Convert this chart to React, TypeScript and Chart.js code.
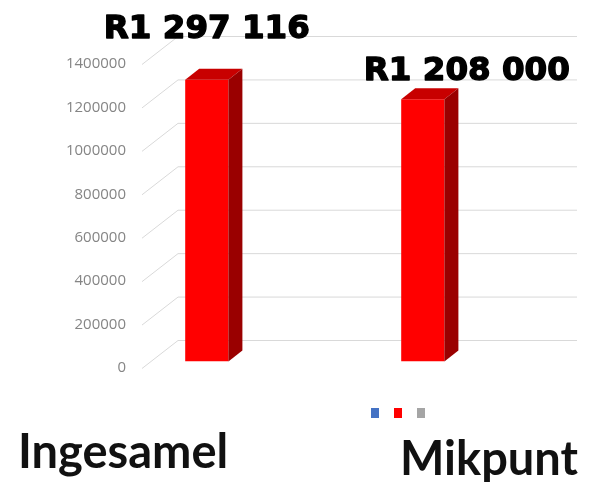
import { useEffect, useRef } from "react";
import { Chart, registerables } from "chart.js";

Chart.register(...registerables);

// ---- data ----
const categories = ["Ingesamel", "Mikpunt"];
const series1Values: (number | null)[] = [null, null];
const series2Values: (number | null)[] = [1297116, 1208000];
const series3Values: (number | null)[] = [null, null];
const yTickValues = [0, 200000, 400000, 600000, 800000, 1000000, 1200000, 1400000];

// ---- style ----
const RED = "#ff0000";
const RED_TOP = "#c80000";
const RED_SIDE = "#9a0000";
const BLUE = "#4472c4";
const GREY = "#a5a5a5";
const GRID = "#d9d9d9";
const DEPTH = { dx: 14, dy: -11 };
const WALL = { dx: 36, dy: -28, frontDy: 7 };
const valueLabelOffsets = [
  { dx: 0, dy: -42 },
  { dx: 44, dy: -19 },
];
const categoryLabelPos = [
  { x: 18, y: 468 },
  { x: 400, y: 475 },
];
const legendRank = [1, 0, 2];

function formatRand(v: number): string {
  return "R" + String(v).replace(/\B(?=(\d{3})+(?!\d))/g, " ");
}

export default function App() {
  const ref = useRef<HTMLCanvasElement>(null);

  useEffect(() => {
    if (!ref.current) return;

    const plugin = {
      id: "excel3d",
      afterLayout(chart: any) {
        const lg = chart.legend;
        if (!lg || !lg.lineWidths) return;
        const pad = lg.options.labels.padding;
        const lw = lg.lineWidths[0];
        const cur = (lg.left + pad + lg.right - lw) / 2;
        const dx = 371 - cur;
        lg.left += dx;
        lg.right += dx;
        const h = lg.height;
        lg.top = 398;
        lg.bottom = lg.top + h;
      },
      beforeDatasetsDraw(chart: any) {
        const { ctx, chartArea } = chart;
        const ys = chart.scales.y;
        ctx.save();
        ctx.strokeStyle = GRID;
        ctx.lineWidth = 1;
        for (const v of yTickValues) {
          const y = ys.getPixelForValue(v);
          const x0 = chartArea.left;
          const y0 = y + WALL.frontDy;
          const x1 = x0 + WALL.dx;
          const y1 = y0 + WALL.dy;
          ctx.beginPath();
          ctx.moveTo(x0, y0);
          ctx.lineTo(x1, y1);
          ctx.lineTo(chartArea.right + 3, y1);
          ctx.stroke();
        }
        ctx.restore();
      },
      afterDatasetsDraw(chart: any) {
        const { ctx } = chart;
        const meta = chart.getDatasetMeta(0);
        ctx.save();
        meta.data.forEach((bar: any, i: number) => {
          const v = series2Values[i];
          if (v == null) return;
          const { x, y, base, width } = bar.getProps(["x", "y", "base", "width"], true);
          const l = x - width / 2;
          const r = x + width / 2;
          // top face
          ctx.fillStyle = RED_TOP;
          ctx.beginPath();
          ctx.moveTo(l, y);
          ctx.lineTo(l + DEPTH.dx, y + DEPTH.dy);
          ctx.lineTo(r + DEPTH.dx, y + DEPTH.dy);
          ctx.lineTo(r, y);
          ctx.closePath();
          ctx.fill();
          // side face
          ctx.fillStyle = RED_SIDE;
          ctx.beginPath();
          ctx.moveTo(r, y);
          ctx.lineTo(r + DEPTH.dx, y + DEPTH.dy);
          ctx.lineTo(r + DEPTH.dx, base + DEPTH.dy);
          ctx.lineTo(r, base);
          ctx.closePath();
          ctx.fill();
          // value label
          const off = valueLabelOffsets[i];
          ctx.fillStyle = "#000000";
          ctx.strokeStyle = "#000000";
          ctx.lineWidth = 1.4;
          ctx.lineJoin = "round";
          ctx.font = 'bold 32.5px "DejaVu Sans"';
          ctx.textAlign = "center";
          ctx.textBaseline = "alphabetic";
          const t = formatRand(v);
          ctx.fillText(t, x + off.dx, y + off.dy);
          ctx.strokeText(t, x + off.dx, y + off.dy);
        });
        ctx.restore();
      },
      afterDraw(chart: any) {
        const { ctx } = chart;
        ctx.save();
        ctx.fillStyle = "#111111";
        ctx.font = 'bold 47px Lato';
        ctx.textAlign = "left";
        ctx.textBaseline = "alphabetic";
        categories.forEach((c, i) => {
          const p = categoryLabelPos[i];
          ctx.fillText(c, p.x, p.y);
        });
        ctx.restore();
      },
    };

    const chart = new Chart(ref.current, {
      type: "bar",
      data: {
        labels: categories,
        datasets: [
          { label: "", data: series2Values, backgroundColor: RED, borderWidth: 0 },
          { label: "", data: series1Values, backgroundColor: BLUE, borderWidth: 0 },
          { label: "", data: series3Values, backgroundColor: GREY, borderWidth: 0 },
        ],
      },
      options: {
        responsive: false,
        animation: false,
        devicePixelRatio: 1,
        layout: { padding: { left: 0, right: 19, top: 57.5, bottom: 89.5 } },
        datasets: { bar: { categoryPercentage: 0.6, barPercentage: 1 } },
        scales: {
          x: {
            type: "category",
            display: false,
            offset: true,
            grid: { display: false },
          },
          y: {
            min: 0,
            max: 1400000,
            afterFit(scale: any) {
              scale.width = 142;
            },
            afterBuildTicks(scale: any) {
              scale.ticks = yTickValues.map((v) => ({ value: v }));
            },
            border: { display: false },
            grid: { display: false, drawTicks: false },
            ticks: {
              padding: 16,
              labelOffset: 6.5,
              color: "#858585",
              font: { family: '"Open Sans"', size: 15 },
              callback: (v: any) => String(v),
            },
          },
        },
        plugins: {
          title: { display: false },
          tooltip: { enabled: false },
          legend: {
            display: true,
            position: "bottom",
            labels: {
              boxWidth: 8,
              boxHeight: 10,
              padding: 9,
              font: { size: 12 },
              sort: (a: any, b: any) => legendRank[a.datasetIndex] - legendRank[b.datasetIndex],
            },
          },
        },
      },
      plugins: [plugin],
    } as any);

    return () => chart.destroy();
  }, []);

  return (
    <div
      style={{
        position: "fixed",
        left: 0,
        top: 0,
        width: 593,
        height: 482,
        background: "#ffffff",
      }}
    >
      <canvas ref={ref} width={593} height={482} style={{ display: "block", width: 593, height: 482 }} />
    </div>
  );
}
